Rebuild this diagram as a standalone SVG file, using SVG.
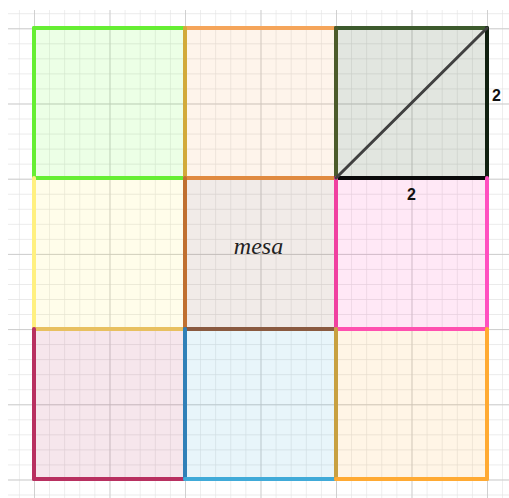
<svg xmlns="http://www.w3.org/2000/svg" width="509" height="498" viewBox="0 0 509 498">
  <style>
    .e { stroke-width: 4; stroke-linecap: round; fill: none; }
    .f { stroke: none; fill-opacity: 0.12; }
    .num { font-family: "Liberation Sans", Arial, sans-serif; font-size: 16px; font-weight: bold; fill: #111111; }
    .lbl { font-family: "Liberation Serif", "Times New Roman", serif; font-style: italic; font-size: 24px; fill: #222222; }
  </style>
  <defs>
    <pattern id="minor" patternUnits="userSpaceOnUse" x="34" y="28.3" width="15.1" height="15.04">
      <path d="M0 0 V15.04 M0 0 H15.1" stroke="#e3e3e3" stroke-width="1.2" fill="none"/>
    </pattern>
    <pattern id="major" patternUnits="userSpaceOnUse" x="34" y="28.3" width="75.5" height="75.2">
      <path d="M0 0 V75.2 M0 0 H75.5" stroke="#c4c4c4" stroke-width="1.4" fill="none"/>
    </pattern>
  </defs>
  <rect width="509" height="498" fill="#ffffff"/>
  <g id="grid">
    <rect x="8" y="10" width="501" height="488" fill="url(#minor)"/>
    <rect x="8" y="10" width="501" height="488" fill="url(#major)"/>
  </g>

  <!-- fills -->
  <g id="sq-top-left">
    <rect class="f" x="34" y="28" width="151" height="150" fill="#66ff33"/>
  </g>
  <g id="sq-top-middle">
    <rect class="f" x="185" y="28" width="151" height="150" fill="#f5a55a"/>
  </g>
  <g id="sq-top-right">
    <rect class="f" x="336" y="28" width="151" height="150" fill="#3d5a2d" fill-opacity="0.15" style="fill-opacity:0.15"/>
  </g>
  <g id="sq-mid-left">
    <rect class="f" x="34" y="178" width="151" height="151" fill="#ffee55"/>
  </g>
  <g id="sq-mesa">
    <rect class="f" x="185" y="178" width="151" height="151" fill="#8a5a40"/>
  </g>
  <g id="sq-mid-right">
    <rect class="f" x="336" y="178" width="151" height="151" fill="#ff40b8"/>
  </g>
  <g id="sq-bot-left">
    <rect class="f" x="34" y="329" width="151" height="150" fill="#b83060"/>
  </g>
  <g id="sq-bot-middle">
    <rect class="f" x="185" y="329" width="151" height="150" fill="#40aad8"/>
  </g>
  <g id="sq-bot-right">
    <rect class="f" x="336" y="329" width="151" height="150" fill="#ffaa33"/>
  </g>

  <!-- edges -->
  <g id="edges">
    <!-- top row -->
    <line class="e" x1="34" y1="28" x2="185" y2="28" stroke="#66ee33"/>
    <line class="e" x1="34" y1="28" x2="34" y2="178" stroke="#66ee33"/>
    <line class="e" x1="34" y1="178" x2="185" y2="178" stroke="#66ee33"/>
    <line class="e" x1="185" y1="28" x2="336" y2="28" stroke="#f5a55a"/>
    <line class="e" x1="185" y1="28" x2="185" y2="178" stroke="#d2aa3a"/>
    <line class="e" x1="185" y1="178" x2="336" y2="178" stroke="#e08a40"/>
    <line class="e" x1="336" y1="28" x2="487" y2="28" stroke="#3d5a2d"/>
    <line class="e" x1="336" y1="28" x2="336" y2="178" stroke="#4b5a2a"/>
    <line class="e" x1="487" y1="28" x2="487" y2="178" stroke="#102010"/>
    <line class="e" x1="336" y1="178" x2="487" y2="178" stroke="#0a0a0a"/>
    <!-- middle row -->
    <line class="e" x1="34" y1="178" x2="34" y2="329" stroke="#fff080"/>
    <line class="e" x1="34" y1="329" x2="185" y2="329" stroke="#e8c060"/>
    <line class="e" x1="185" y1="178" x2="185" y2="329" stroke="#c07030"/>
    <line class="e" x1="185" y1="329" x2="336" y2="329" stroke="#8a5a40"/>
    <line class="e" x1="336" y1="178" x2="336" y2="329" stroke="#f040a0"/>
    <line class="e" x1="487" y1="178" x2="487" y2="329" stroke="#ff50c0"/>
    <line class="e" x1="336" y1="329" x2="487" y2="329" stroke="#ff50b0"/>
    <!-- bottom row -->
    <line class="e" x1="34" y1="329" x2="34" y2="479" stroke="#b83060"/>
    <line class="e" x1="34" y1="479" x2="185" y2="479" stroke="#b83060"/>
    <line class="e" x1="185" y1="329" x2="185" y2="479" stroke="#3080b8"/>
    <line class="e" x1="185" y1="479" x2="336" y2="479" stroke="#40aad8"/>
    <line class="e" x1="336" y1="329" x2="336" y2="479" stroke="#c8a040"/>
    <line class="e" x1="487" y1="329" x2="487" y2="479" stroke="#ffaa33"/>
    <line class="e" x1="336" y1="479" x2="487" y2="479" stroke="#ffaa33"/>
    <!-- diagonal -->
    <line x1="336" y1="178" x2="487" y2="28" stroke="#404040" stroke-width="3" stroke-linecap="round"/>
  </g>

  <g id="labels">
    <text class="num" x="492" y="101">2</text>
    <text class="num" x="411.5" y="200" text-anchor="middle">2</text>
    <text class="lbl" x="258.5" y="254" text-anchor="middle">mesa</text>
  </g>
</svg>
